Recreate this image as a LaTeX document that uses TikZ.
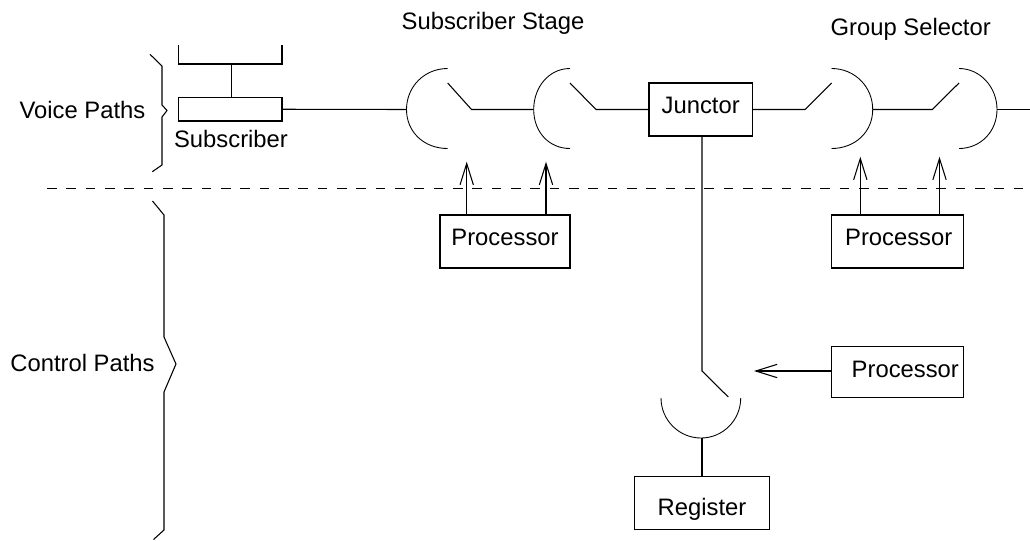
\documentclass[tikz,border=0pt]{standalone}
\usepackage{fontspec}
\setmainfont{Liberation Sans}
\usetikzlibrary{arrows.meta}
\tikzset{
  ln/.style={line width=0.8pt,line join=miter},
  thinln/.style={line width=0.65pt},
  arr/.style={ln,-{Straight Barb[length=16pt,width=10pt,line width=0.8pt]}},
  txt/.style={inner sep=0,outer sep=0,anchor=base,font=\fontsize{17.85pt}{20pt}\selectfont},
  boxn/.style={draw,ln,inner sep=0,outer sep=0,font=\fontsize{17.85pt}{20pt}\selectfont,text depth=0pt},
  proc/.style={boxn,minimum height=39.75pt,text height=6.3pt}
}
\begin{document}
\begin{tikzpicture}[x=0.75pt,y=-0.75pt]
\useasboundingbox (0,0) rectangle (1030,540);
% boxes
\node[boxn,minimum width=77.6pt,minimum height=17.6pt] (sub) at (230.25,109.25) {};
\node[proc,minimum width=97.5pt] (p1) at (505,241.5) {Processor};
\node[proc,minimum width=99pt] (p2) at (897.5,241.5) {\hspace*{1.8pt}Processor};
\node[proc,minimum width=99pt,minimum height=37.9pt,text height=7.5pt] (p3) at (897.5,372) {\hspace*{11.7pt}Processor};
\node[boxn,minimum width=77.6pt,minimum height=39.75pt,text height=5.7pt] (junc) at (700.7,109.5) {Junctor};
\node[boxn,minimum width=101.2pt,minimum height=39.6pt,text height=18pt] (reg) at (702,503) {Register};
% text labels
\node[txt] (lvoice) at (82.5,118) {Voice Paths};
\node[txt] (lctrl) at (82.5,371) {Control Paths};
\node[txt] (lsub) at (231,147.5) {Subscriber};
\node[txt] (lstage) at (493,29.5) {Subscriber Stage};
\node[txt] (lgroup) at (910.7,35.3) {Group Selector};
% coordinates
\coordinate (topL) at (178.5,45);
\coordinate (topR) at (282,45);
\coordinate (topM) at (231.5,64);
\coordinate (a1) at (406.5,109.5);
\coordinate (s1) at (471.5,109.5);
\coordinate (a2) at (533.7,109.5);
\coordinate (s2) at (596,109.5);
\coordinate (s3) at (805,109.5);
\coordinate (a3) at (872.7,109.5);
\coordinate (s4) at (932.3,109.5);
\coordinate (a4) at (997,109.5);
\coordinate (endR) at (1030,109.5);
\coordinate (s5) at (702,371);
\coordinate (a5) at (701,438);
\coordinate (t1) at (466.7,161.7);
\coordinate (t2) at (546,161.7);
\coordinate (t3) at (860.3,156.7);
\coordinate (t4) at (939.5,156.7);
\coordinate (t5) at (754,371);
\coordinate (dashL) at (47,188.7);
\coordinate (dashR) at (1030,188.7);
% subscriber top
\draw[ln] (topL) -- (178.5,64) -- (282,64) -- (topR);
\draw[ln] (topM) -- (topM |- sub.north);
\draw[ln] (sub.east) -- (a1);
% arcs
\draw[thinln] (447.7,68.5) .. controls (424,68.5) and (406.5,87) .. (a1) .. controls (406.5,132) and (424,148.5) .. (447.7,148.5);
\draw[thinln] (570,68.5) .. controls (549,68.5) and (533.7,87) .. (a2) .. controls (533.7,132) and (549,148.5) .. (570,148.5);
\draw[thinln] (831.5,68.5) .. controls (855,68.5) and (872.7,87) .. (a3) .. controls (872.7,132) and (855,148.5) .. (831.5,148.5);
\draw[thinln] (959,68.5) .. controls (980,68.5) and (997,87) .. (a4) .. controls (997,132) and (980,148.5) .. (959,148.5);
\draw[thinln] (661,398) .. controls (661,420) and (679,438) .. (a5) .. controls (723,438) and (740.7,420) .. (740.7,398);
% switches and lines
\draw[ln] (447.7,83) -- (s1) -- (a2);
\draw[ln] (570,83) -- (s2) -- (junc.west |- s2);
\draw[ln] (junc.east |- s3) -- (s3) -- (831.5,83);
\draw[ln] (a3) -- (s4) -- (959,83);
\draw[ln] (a4) -- (endR);
\draw[ln] (s5 |- junc.south) -- (s5) -- (728.3,397);
\draw[ln] (s5 |- a5) -- (s5 |- reg.north);
% arrows
\draw[arr] (t1 |- p1.north) -- (t1);
\draw[arr] (t2 |- p1.north) -- (t2);
\draw[arr] (t3 |- p2.north) -- (t3);
\draw[arr] (t4 |- p2.north) -- (t4);
\draw[arr] (p3.west |- t5) -- (t5);
% dashed
\draw[line width=0.7pt,dash pattern=on 7.2pt off 7.3pt] (dashL) -- (dashR);
% braces
\draw[ln] (150,54.3) -- (162,66) -- (162,105) -- (167,110.5) -- (162,117) -- (162,165) -- (152.3,171.7);
\draw[ln] (152.5,201) -- (164,215) -- (164,337) -- (176,364) -- (164,392) -- (164,530) -- (153.5,539.5);
\end{tikzpicture}
\end{document}
